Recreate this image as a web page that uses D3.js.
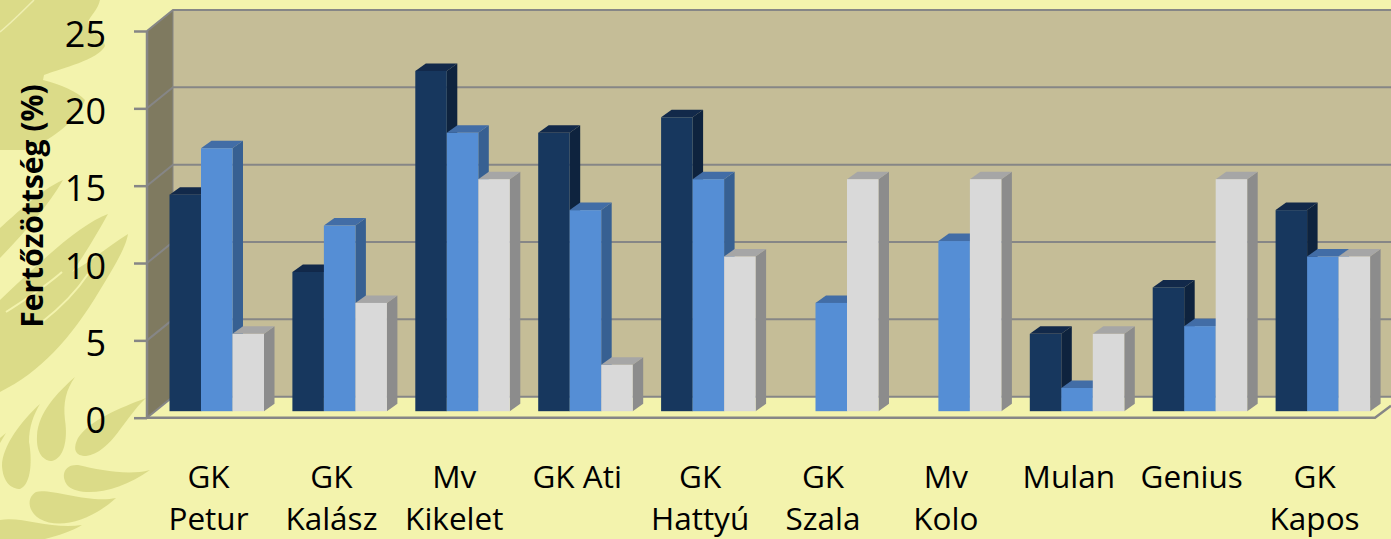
<!DOCTYPE html>
<html><head><meta charset="utf-8">
<script src="https://cdn.jsdelivr.net/npm/d3@7"></script>
<style>html,body{margin:0;padding:0;background:#f3f3ad;overflow:hidden}svg{display:block}text{font-family:"Open Sans",sans-serif;fill:#000}</style>
</head><body><svg id="c" width="1391" height="539"></svg>
<script>
const categories=[["GK","Petur"],["GK","Kalász"],["Mv","Kikelet"],["GK Ati"],["GK","Hattyú"],["GK","Szala"],["Mv","Kolo"],["Mulan"],["Genius"],["GK","Kapos"]];
const seriesA=[14,9,22,18,19,0,0,5,8,13];
const seriesB=[17,12,18,13,15,7,11,1.5,5.5,10];
const seriesC=[5,7,15,3,10,15,15,5,15,10];
const yTicks=[0,5,10,15,20,25];
const yTitle="Fertőzöttség (%)";
const colors=[{f:"#17375e",t:"#12294a",s:"#0e233e"},{f:"#558ed5",t:"#426da6",s:"#376092"},{f:"#d9d9d9",t:"#a6a6a6",s:"#8c8c8c"}];
const svg=d3.select("#c");
const decor="#dbdb88",bg="#f3f3ad";
const deco=["M0,0 L100,0 C98,10 90,16 88,22 C92,32 104,38 105,46 C98,60 62,68 44,75 L43,80 C60,84 78,92 85,100 C78,120 50,142 24,150 L0,150 Z",
"M63,180 C40,190 15,215 0,228 L0,258 C25,232 48,206 63,180 Z",
"M108,214 C80,224 40,262 0,300 L0,392 C40,372 70,340 100,290 C112,270 126,248 128,234 C110,245 90,262 72,272 C84,256 98,232 108,214 Z",
"M75,377 C58,392 38,412 37,436 C36,454 44,461 52,461 C64,458 68,440 65,420 C63,402 66,390 75,377 Z",
"M40,404 C22,420 2,446 2,466 C3,483 12,489 20,489 C32,484 32,458 29,442 C29,426 34,414 40,404 Z",
"M146,398 C120,408 90,420 78,438 C72,450 76,456 86,456 C112,452 124,418 146,398 Z",
"M150,470 C128,476 100,470 78,465 C64,464 60,476 68,486 C82,498 120,492 150,470 Z",
"M116,498 C90,504 50,488 36,492 C26,498 28,512 40,519 C60,530 92,520 116,498 Z",
"M82,525 C52,530 22,516 0,520 L0,539 L45,539 C60,535 72,531 82,525 Z",
"M6,433 L0,443 L0,438 Z"];
svg.append("g").selectAll("path").data(deco).join("path").attr("d",d=>d).attr("fill",decor);
svg.append("path").attr("d","M6,312 C28,298 46,286 62,272").attr("fill","none").attr("stroke",bg).attr("stroke-width",2);
svg.append("path").attr("d","M42,322 C60,308 76,292 88,274").attr("fill","none").attr("stroke",bg).attr("stroke-width",2);
svg.append("path").attr("d","M0,32 C12,22 24,10 34,0").attr("fill","none").attr("stroke","#eeeeb0").attr("stroke-width",1.5);

const wallDx=26,wallDy=-21,barShiftY=-6.5,barDepthX=10.5,barDepthY=-7.5;
const y=d3.scaleLinear().domain([0,25]).range([417.7,31]);
const xLeft=147,xRight=1375;
const grid="#868686";
// walls
svg.append("rect").attr("x",xLeft+wallDx).attr("y",y(25)+wallDy).attr("width",1391-xLeft-wallDx).attr("height",y(0)-y(25)).attr("fill","#c5bd97");
svg.append("path").attr("d",`M${xLeft},${y(0)} L${xLeft},${y(25)} l${wallDx},${wallDy} L${xLeft+wallDx},${y(0)+wallDy} Z`).attr("fill","#7f7a60");
svg.append("path").attr("d",`M${xLeft},${y(0)} l${wallDx},${wallDy} L1391,${y(0)+wallDy} L1391,${y(0)-12} L${xRight},${y(0)} Z`).attr("fill",bg);
// gridlines
const gg=svg.append("g").attr("fill","none").attr("stroke",grid).attr("stroke-width",2);
yTicks.forEach(t=>{
 gg.append("path").attr("d",`M${xLeft},${y(t)} l${wallDx},${wallDy} L1391,${y(t)+wallDy}`);
});
gg.append("path").attr("d",`M${xLeft+wallDx},${y(25)+wallDy} L${xLeft+wallDx},${y(0)+wallDy}`).attr("stroke-width",1);
gg.append("path").attr("d",`M${xLeft},${y(0)} L${xLeft},${y(25)}`).attr("stroke-width",2.5);
gg.append("path").attr("d",`M${xLeft},${y(0)} L${xRight},${y(0)} L1391,${y(0)-12}`).attr("stroke-width",2.5);
// axis
const axis=d3.axisLeft(y).tickValues(yTicks).tickSize(13).tickPadding(28);
const ax=svg.append("g").attr("transform",`translate(${xLeft},0)`).call(axis);
ax.select(".domain").remove();
ax.selectAll("line").attr("stroke",grid).attr("stroke-width",2.5);
ax.selectAll("text").attr("font-size",36).attr("dy","0.42em").style("font-family",'"Open Sans",sans-serif');
// bars
const sub=d3.scaleBand().domain([0,1,2]).range([0,94.5]);
const barsG=svg.append("g");
categories.forEach((c,i)=>{
 const x0=169.5+i*122.9;
 [seriesA,seriesB,seriesC].forEach((s,k)=>{
  const v=s[i]; if(!v) return;
  const bx=x0+sub(k),w=sub.bandwidth(),top=y(v)+barShiftY,bot=y(0)+barShiftY,col=colors[k];
  const g=barsG.append("g");
  g.append("path").attr("d",`M${bx+w},${bot} l${barDepthX},${barDepthY} L${bx+w+barDepthX},${top+barDepthY} L${bx+w},${top} Z`).attr("fill",col.s);
  g.append("path").attr("d",`M${bx},${top} l${barDepthX},${barDepthY} h${w} l${-barDepthX},${-barDepthY} Z`).attr("fill",col.t);
  g.append("rect").attr("x",bx).attr("y",top).attr("width",w).attr("height",bot-top).attr("fill",col.f);
 });
});
// category labels
const lab=svg.append("g").attr("text-anchor","middle").attr("font-size",31.5);
categories.forEach((c,i)=>{
 const cx=208.5+i*122.9;
 const t=lab.append("text").attr("x",cx).attr("y",488);
 c.forEach((line,j)=>t.append("tspan").attr("x",cx).attr("y",488+j*41.5).text(line));
});
svg.append("text").attr("transform","translate(43,206) rotate(-90)").attr("text-anchor","middle").attr("font-size",30).attr("font-weight",700).text(yTitle);
</script></body></html>
